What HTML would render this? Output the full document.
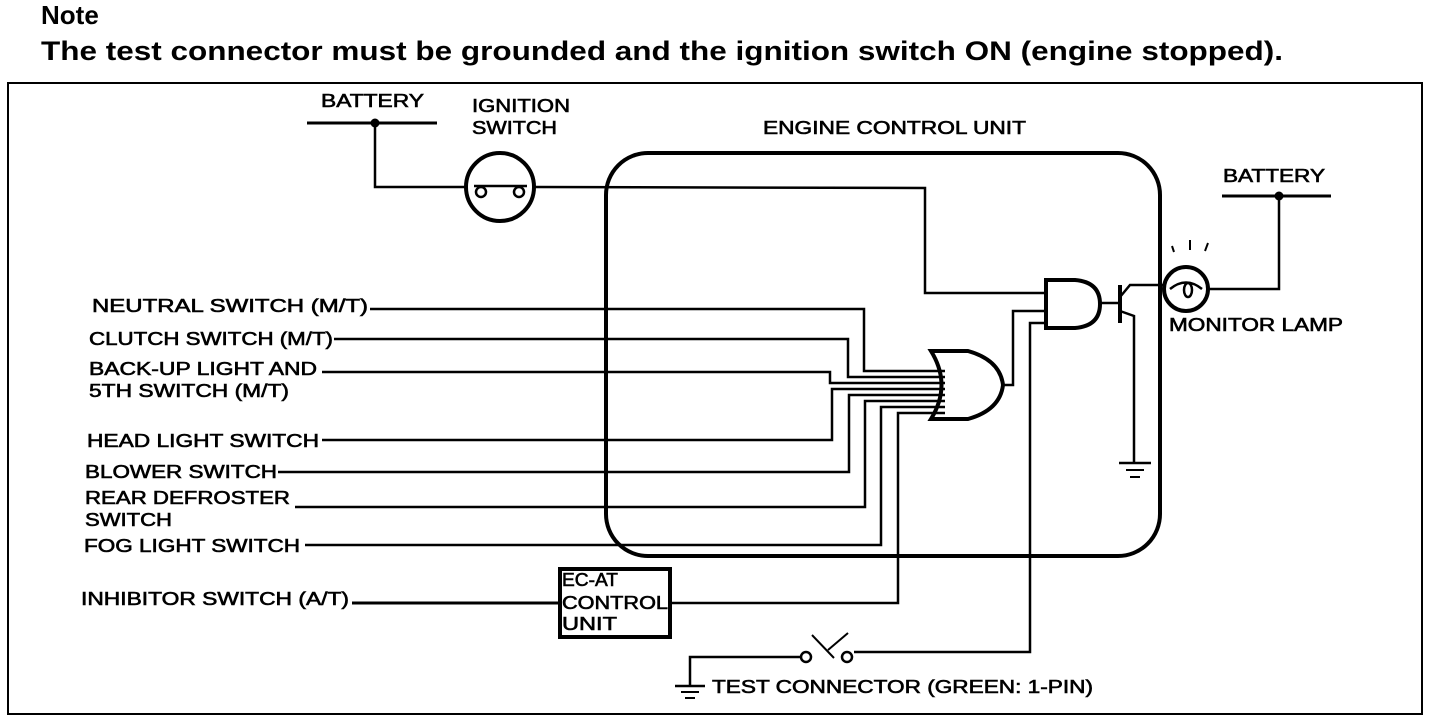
<!DOCTYPE html>
<html><head><meta charset="utf-8"><style>
html,body{margin:0;padding:0;background:#fff;}
svg{display:block;}
text{font-family:"Liberation Sans",sans-serif;fill:#000;}
.l{stroke:#000;stroke-width:0.6px;}
</style></head><body>
<svg width="1440" height="718" viewBox="0 0 1440 718" xmlns="http://www.w3.org/2000/svg">
<text x="41" y="24" font-size="26" font-weight="bold">Note</text>
<text x="41" y="60" font-size="27" font-weight="bold" textLength="1242" lengthAdjust="spacingAndGlyphs">The test connector must be grounded and the ignition switch ON (engine stopped).</text>
<g fill="none" stroke="#000">
<rect x="8" y="83" width="1414" height="631" stroke-width="2"/>
<rect x="606" y="153" width="554" height="403" rx="42" stroke-width="4"/>
<line x1="307" y1="123" x2="437" y2="123" stroke-width="3"/>
<polyline points="375,123 375,187 466,187" stroke-width="2.5"/>
<circle cx="500" cy="187" r="34" stroke-width="4"/>
<line x1="474" y1="186" x2="527" y2="186" stroke-width="2.5"/>
<circle cx="481" cy="192" r="5" stroke-width="2.5"/>
<circle cx="519" cy="192" r="5" stroke-width="2.5"/>
<polyline points="534,187 925,188 925,293 1046,293" stroke-width="2.5"/>
<polyline points="370,309 864,309 864,371 945,371" stroke-width="2.5"/>
<polyline points="334,339 848,339 848,377 945,377" stroke-width="2.5"/>
<polyline points="322,372 830,372 830,383 945,383" stroke-width="2.5"/>
<polyline points="322,440 832,440 832,389 945,389" stroke-width="2.5"/>
<polyline points="278,472 849,472 849,395 945,395" stroke-width="2.5"/>
<polyline points="295,507 865,507 865,401 945,401" stroke-width="2.5"/>
<polyline points="305,545 881,545 881,407 945,407" stroke-width="2.5"/>
<polyline points="352,603 560,603" stroke-width="3"/>
<polyline points="670,603 898,603 898,413 945,413" stroke-width="2.5"/>
<path d="M931,351 L968,351 Q1000,360 1003,385 Q1000,410 968,419 L931,419 Q952,385 931,351 Z" stroke-width="4"/>
<polyline points="1003,385 1013,385 1013,311 1046,311" stroke-width="2.5"/>
<path d="M1046,280 L1075,280 Q1100,282 1100,304 Q1100,326 1075,328 L1046,328 Z" stroke-width="4"/>
<polyline points="1046,323 1030,323 1030,652 854,652" stroke-width="2.5"/>
<line x1="1100" y1="303" x2="1119" y2="303" stroke-width="2.5"/>
<line x1="1120" y1="285" x2="1120" y2="323" stroke-width="4"/>
<polyline points="1120,297 1130,285 1165,285" stroke-width="2.5"/>
<polyline points="1120,311 1134,316 1134,463" stroke-width="2.5"/>
<line x1="1119" y1="463" x2="1151" y2="463" stroke-width="2.5"/>
<line x1="1126" y1="470" x2="1144" y2="470" stroke-width="2"/>
<line x1="1130" y1="477" x2="1140" y2="477" stroke-width="2"/>
<circle cx="1186" cy="289" r="22" stroke-width="4"/>
<path d="M1170,289 Q1186,276 1202,289" stroke-width="2.5"/>
<ellipse cx="1188" cy="290" rx="4" ry="7" stroke-width="2.5"/>
<polyline points="1208,289 1279,289 1279,196" stroke-width="2.5"/>
<line x1="1222" y1="196" x2="1331" y2="196" stroke-width="3"/>
<line x1="1172" y1="246" x2="1174" y2="252" stroke-width="2"/>
<line x1="1190" y1="240" x2="1190" y2="250" stroke-width="2"/>
<line x1="1208" y1="243" x2="1205" y2="251" stroke-width="2"/>
<rect x="560" y="569" width="110" height="68" stroke-width="4"/>
<polyline points="800,657 690,657 690,686" stroke-width="2.5"/>
<line x1="675" y1="686" x2="705" y2="686" stroke-width="2.5"/>
<line x1="681" y1="692" x2="699" y2="692" stroke-width="2"/>
<line x1="685" y1="698" x2="695" y2="698" stroke-width="2"/>
<circle cx="806" cy="657" r="5" stroke-width="2.5"/>
<circle cx="847" cy="657" r="5" stroke-width="2.5"/>
<line x1="812" y1="635" x2="834" y2="658" stroke-width="2"/>
<line x1="828" y1="650" x2="848" y2="633" stroke-width="2"/>
</g>
<circle cx="375" cy="123" r="4.5" fill="#000"/>
<circle cx="1279" cy="196" r="4.5" fill="#000"/>
<g font-size="18" class="l">
<text x="321" y="107" textLength="103" lengthAdjust="spacingAndGlyphs">BATTERY</text>
<text x="472" y="112" textLength="98" lengthAdjust="spacingAndGlyphs">IGNITION</text>
<text x="472" y="134" textLength="85" lengthAdjust="spacingAndGlyphs">SWITCH</text>
<text x="763" y="134" textLength="263" lengthAdjust="spacingAndGlyphs">ENGINE CONTROL UNIT</text>
<text x="1223" y="182" textLength="102" lengthAdjust="spacingAndGlyphs">BATTERY</text>
<text x="1169" y="331" textLength="174" lengthAdjust="spacingAndGlyphs">MONITOR LAMP</text>
<text x="92" y="312" textLength="276" lengthAdjust="spacingAndGlyphs">NEUTRAL SWITCH (M/T)</text>
<text x="89" y="345" textLength="244" lengthAdjust="spacingAndGlyphs">CLUTCH SWITCH (M/T)</text>
<text x="89" y="375" textLength="228" lengthAdjust="spacingAndGlyphs">BACK-UP LIGHT AND</text>
<text x="89" y="397" textLength="200" lengthAdjust="spacingAndGlyphs">5TH SWITCH (M/T)</text>
<text x="87" y="447" textLength="232" lengthAdjust="spacingAndGlyphs">HEAD LIGHT SWITCH</text>
<text x="85" y="478" textLength="192" lengthAdjust="spacingAndGlyphs">BLOWER SWITCH</text>
<text x="85" y="504" textLength="205" lengthAdjust="spacingAndGlyphs">REAR DEFROSTER</text>
<text x="85" y="526" textLength="87" lengthAdjust="spacingAndGlyphs">SWITCH</text>
<text x="84" y="552" textLength="216" lengthAdjust="spacingAndGlyphs">FOG LIGHT SWITCH</text>
<text x="81" y="605" textLength="268" lengthAdjust="spacingAndGlyphs">INHIBITOR SWITCH (A/T)</text>
<text x="562" y="586" textLength="56" lengthAdjust="spacingAndGlyphs">EC-AT</text>
<text x="562" y="609" textLength="106" lengthAdjust="spacingAndGlyphs">CONTROL</text>
<text x="562" y="630" textLength="55" lengthAdjust="spacingAndGlyphs">UNIT</text>
<text x="712" y="693" textLength="381" lengthAdjust="spacingAndGlyphs">TEST CONNECTOR (GREEN: 1-PIN)</text>
</g>
</svg>
</body></html>
